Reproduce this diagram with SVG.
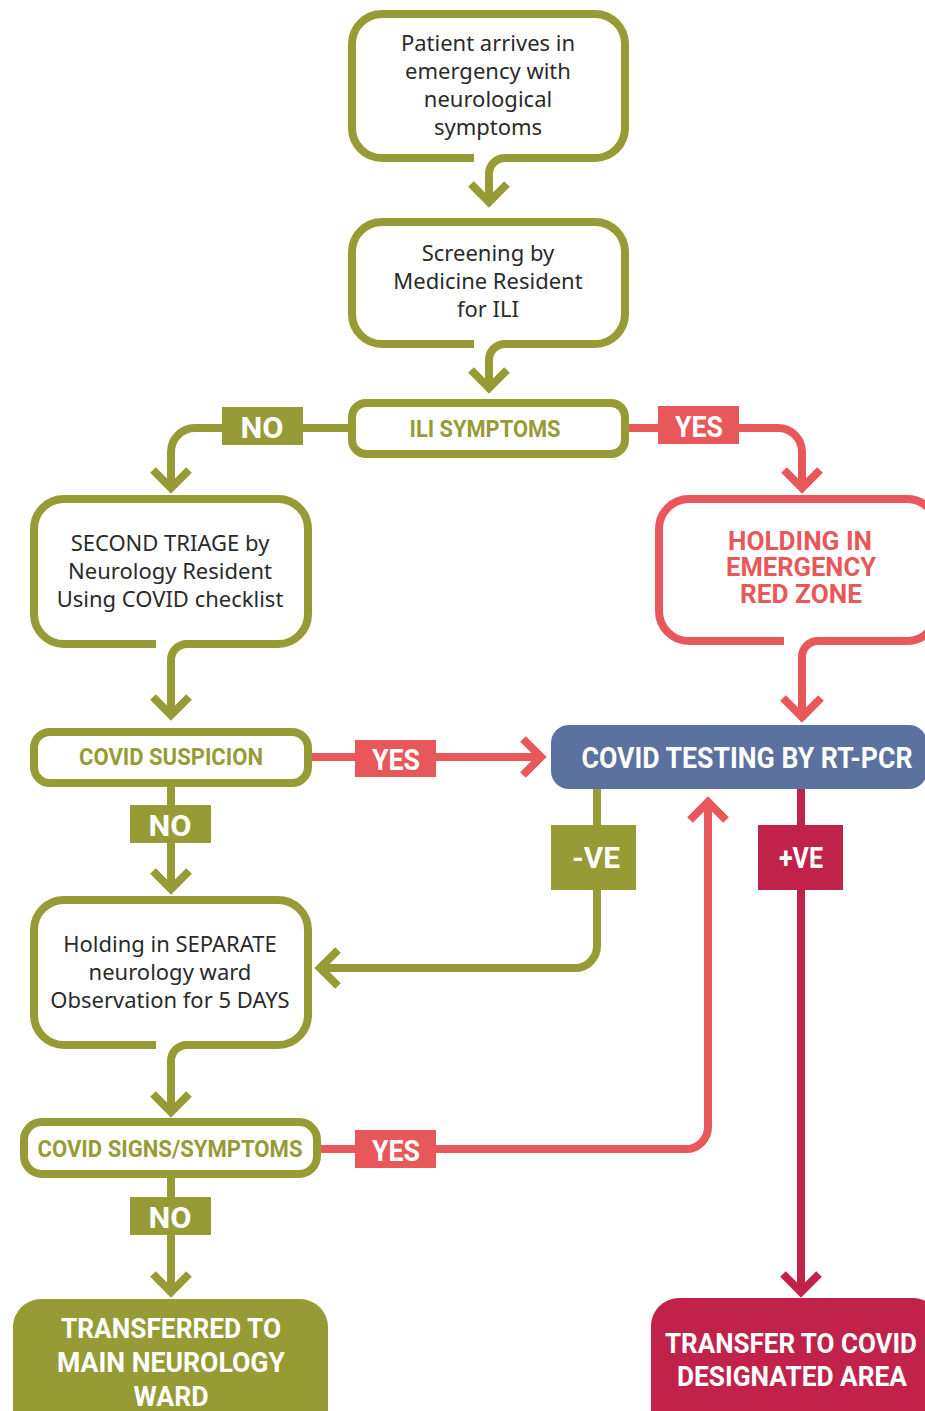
<svg xmlns="http://www.w3.org/2000/svg" width="925" height="1411" viewBox="0 0 925 1411">
<style>
.ol{fill:none;stroke:#969B36;stroke-width:8;stroke-linecap:butt;stroke-linejoin:miter}
.rd{fill:none;stroke:#E8575A;stroke-width:8;stroke-linecap:butt;stroke-linejoin:miter}
.cr{fill:none;stroke:#C0224A;stroke-width:8;stroke-linecap:butt;stroke-linejoin:miter}
.box{fill:#fff}
.t{font-family:"Noto Sans","Open Sans",sans-serif;font-size:22px;fill:#2a2a2a;text-anchor:middle}
.b{font-family:Roboto,"Liberation Sans",sans-serif;font-weight:bold;text-anchor:middle}
.lab{font-size:30px;fill:#fff}
.olf{fill:#969B36}.rdf{fill:#E8575A}.crf{fill:#C0224A}.blf{fill:#5B72A0}
</style>
<rect width="925" height="1411" fill="#fff"/>

<g id="n1">
<path class="ol box" d="M 505 158 H 595 A 30 30 0 0 0 625 128 V 44 A 30 30 0 0 0 595 14 H 382 A 30 30 0 0 0 352 44 V 128 A 30 30 0 0 0 382 158 H 474"/>
<text class="t" x="488" y="51">Patient arrives in</text>
<text class="t" x="488" y="79">emergency with</text>
<text class="t" x="488" y="107">neurological</text>
<text class="t" x="488" y="135">symptoms</text>
</g>

<g id="n2">
<path class="ol box" d="M 505 344 H 595 A 30 30 0 0 0 625 314 V 252 A 30 30 0 0 0 595 222 H 382 A 30 30 0 0 0 352 252 V 314 A 30 30 0 0 0 382 344 H 474"/>
<text class="t" x="488" y="261">Screening by</text>
<text class="t" x="488" y="289">Medicine Resident</text>
<text class="t" x="488" y="317">for ILI</text>
</g>

<g id="n3">
<rect class="ol box" x="352" y="403" width="273" height="51" rx="14"/>
<text class="b" x="485" y="437" font-size="24" fill="#969B36" textLength="151" lengthAdjust="spacingAndGlyphs">ILI SYMPTOMS</text>
</g>

<g id="n4">
<path class="ol box" d="M 187 644 H 278 A 30 30 0 0 0 308 614 V 529 A 30 30 0 0 0 278 499 H 64 A 30 30 0 0 0 34 529 V 614 A 30 30 0 0 0 64 644 H 156"/>
<text class="t" x="170" y="551">SECOND TRIAGE by</text>
<text class="t" x="170" y="579">Neurology Resident</text>
<text class="t" x="170" y="607">Using COVID checklist</text>
</g>

<g id="n5">
<path class="rd box" d="M 818 641 H 907 A 30 30 0 0 0 937 611 V 529 A 30 30 0 0 0 907 499 H 689 A 30 30 0 0 0 659 529 V 611 A 30 30 0 0 0 689 641 H 784"/>
<text class="b" x="800" y="550" font-size="26" fill="#E8575A" textLength="144" lengthAdjust="spacingAndGlyphs">HOLDING IN</text>
<text class="b" x="801" y="576" font-size="26" fill="#E8575A" textLength="150" lengthAdjust="spacingAndGlyphs">EMERGENCY</text>
<text class="b" x="801" y="603" font-size="26" fill="#E8575A" textLength="122" lengthAdjust="spacingAndGlyphs">RED ZONE</text>
</g>

<g id="n6">
<rect class="ol box" x="34" y="732" width="274" height="51" rx="16"/>
<text class="b" x="171" y="765" font-size="24" fill="#969B36" textLength="184" lengthAdjust="spacingAndGlyphs">COVID SUSPICION</text>
</g>

<g id="n7">
<rect class="blf" x="551" y="725" width="376" height="64" rx="18"/>
<text class="b" x="747" y="768" font-size="30" fill="#fff" textLength="331" lengthAdjust="spacingAndGlyphs">COVID TESTING BY RT-PCR</text>
</g>

<g id="n8">
<path class="ol box" d="M 187 1045 H 278 A 30 30 0 0 0 308 1015 V 930 A 30 30 0 0 0 278 900 H 64 A 30 30 0 0 0 34 930 V 1015 A 30 30 0 0 0 64 1045 H 156"/>
<text class="t" x="170" y="952">Holding in SEPARATE</text>
<text class="t" x="170" y="980">neurology ward</text>
<text class="t" x="170" y="1008">Observation for 5 DAYS</text>
</g>

<g id="n9">
<rect class="ol box" x="24" y="1122" width="293" height="52" rx="18"/>
<text class="b" x="170" y="1157" font-size="24" fill="#969B36" textLength="265" lengthAdjust="spacingAndGlyphs">COVID SIGNS/SYMPTOMS</text>
</g>

<g id="n10">
<rect class="olf" x="13" y="1299" width="315" height="140" rx="28"/>
<text class="b" x="171" y="1338" font-size="28" fill="#fff" textLength="220" lengthAdjust="spacingAndGlyphs">TRANSFERRED TO</text>
<text class="b" x="171" y="1372" font-size="28" fill="#fff" textLength="228" lengthAdjust="spacingAndGlyphs">MAIN NEUROLOGY</text>
<text class="b" x="171" y="1406" font-size="28" fill="#fff" textLength="75" lengthAdjust="spacingAndGlyphs">WARD</text>
</g>

<g id="n11">
<rect class="crf" x="651" y="1298" width="290" height="140" rx="28"/>
<text class="b" x="791" y="1353" font-size="28" fill="#fff" textLength="252" lengthAdjust="spacingAndGlyphs">TRANSFER TO COVID</text>
<text class="b" x="792" y="1386" font-size="28" fill="#fff" textLength="230" lengthAdjust="spacingAndGlyphs">DESIGNATED AREA</text>
</g>

<g id="connectors">
<path class="ol" d="M 505 158 A 16 16 0 0 0 489 174 V 200"/>
<polyline class="ol" points="471,184 489,202 507,184"/>
<path class="ol" d="M 505 344 A 16 16 0 0 0 489 360 V 387"/>
<polyline class="ol" points="471,370 489,388 507,370"/>
<path class="ol" d="M 352 428 H 195 A 24 24 0 0 0 171 452 V 487"/>
<polyline class="ol" points="153,470 171,488 189,470"/>
<path class="rd" d="M 629 428 H 778 A 24 24 0 0 1 802 452 V 487"/>
<polyline class="rd" points="784,470 802,488 820,470"/>
<path class="ol" d="M 187 644 A 16 16 0 0 0 171 660 V 714"/>
<polyline class="ol" points="153,697 171,715 189,697"/>
<path class="rd" d="M 818 641 A 16 16 0 0 0 802 657 V 716"/>
<polyline class="rd" points="783,698 802,717 821,698"/>
<path class="rd" d="M 312 757 H 540"/>
<polyline class="rd" points="523,739 541,757 523,775"/>
<path class="ol" d="M 171 787 V 888"/>
<polyline class="ol" points="153,871 171,889 189,871"/>
<path class="ol" d="M 597 789 V 946 A 22 22 0 0 1 575 968 H 322"/>
<polyline class="ol" points="338,950 320,968 338,986"/>
<path class="cr" d="M 801 789 V 1291"/>
<polyline class="cr" points="783,1274 801,1292 819,1274"/>
<path class="ol" d="M 187 1045 A 16 16 0 0 0 171 1061 V 1111"/>
<polyline class="ol" points="153,1094 171,1112 189,1094"/>
<path class="rd" d="M 321 1149 H 686 A 22 22 0 0 0 708 1127 V 802"/>
<polyline class="rd" points="690,820 708,802 726,820"/>
<path class="ol" d="M 171 1178 V 1291"/>
<polyline class="ol" points="153,1274 171,1292 189,1274"/>
<g id="labels">
<rect class="olf" x="222" y="407" width="81" height="38"/>
<text class="b lab" x="262" y="438" textLength="43" lengthAdjust="spacingAndGlyphs">NO</text>
<rect class="rdf" x="658" y="406" width="81" height="38"/>
<text class="b lab" x="699" y="437" textLength="48" lengthAdjust="spacingAndGlyphs">YES</text>
<rect class="rdf" x="355" y="740" width="81" height="37"/>
<text class="b lab" x="396" y="770" textLength="48" lengthAdjust="spacingAndGlyphs">YES</text>
<rect class="olf" x="130" y="805" width="81" height="38"/>
<text class="b lab" x="170" y="836" textLength="43" lengthAdjust="spacingAndGlyphs">NO</text>
<rect class="olf" x="551" y="825" width="85" height="65"/>
<text class="b lab" x="596" y="868" textLength="48" lengthAdjust="spacingAndGlyphs">-VE</text>
<rect class="crf" x="758" y="825" width="85" height="65"/>
<text class="b lab" x="801" y="868" font-size="27" textLength="44" lengthAdjust="spacingAndGlyphs">+VE</text>
<rect class="rdf" x="355" y="1130" width="81" height="38"/>
<text class="b lab" x="396" y="1161" textLength="48" lengthAdjust="spacingAndGlyphs">YES</text>
<rect class="olf" x="130" y="1197" width="81" height="38"/>
<text class="b lab" x="170" y="1228" textLength="43" lengthAdjust="spacingAndGlyphs">NO</text>
</g>
</g>
</svg>
